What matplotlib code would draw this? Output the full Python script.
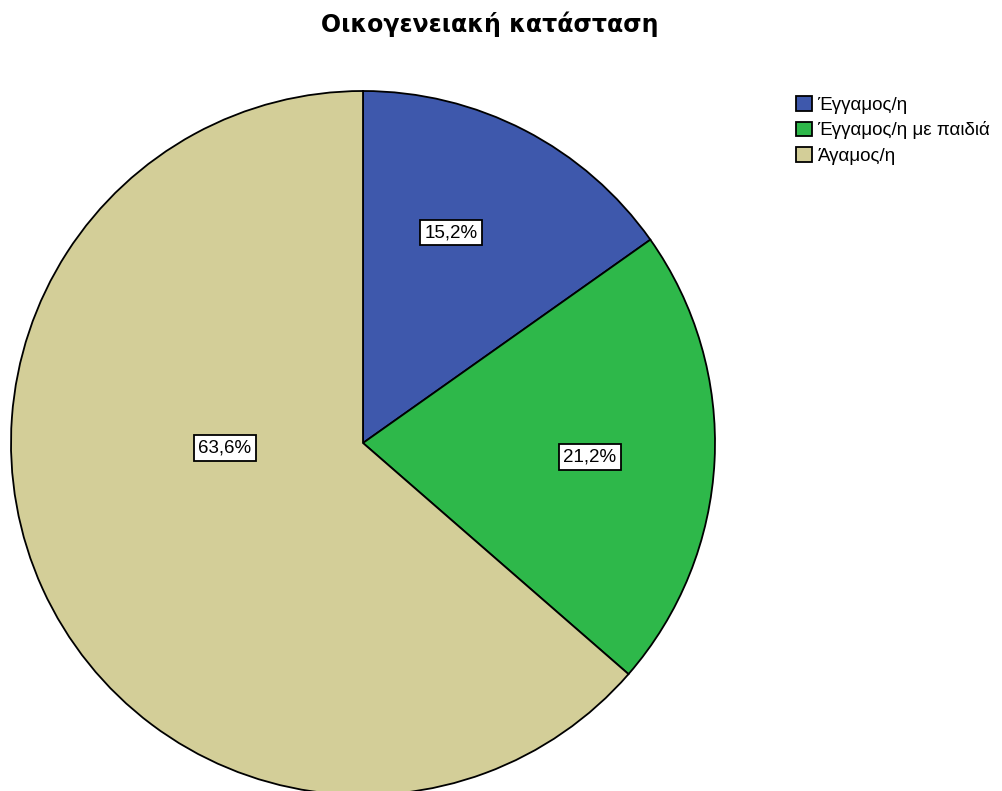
import matplotlib.pyplot as plt
from matplotlib.patches import Patch

plt.rcParams['font.family'] = ['Liberation Sans', 'DejaVu Sans']

# data
categories = ['Έγγαμος/η', 'Έγγαμος/η με παιδιά', 'Άγαμος/η']
percentages = [15.2, 21.2, 63.6]
colors = ['#3e58ac', '#2eb84a', '#d3ce98']
# label anchor positions (in pie radius units)
label_pos = [(0.25, 0.597), (0.645, -0.04), (-0.392, -0.014)]

W, H = 1003, 791
fig = plt.figure(figsize=(W / 100, H / 100), dpi=100)

# pie axes: centre (363, 443) px, radius 352 px
cx, cy, r = 363, 443, 352
ax = fig.add_axes([(cx - r) / W, (H - cy - r) / H, 2 * r / W, 2 * r / H])
wedges, _ = ax.pie(percentages, colors=colors, startangle=90, counterclock=False,
                   radius=1, wedgeprops=dict(edgecolor='black', linewidth=1.3))
ax.set_xlim(-1, 1)
ax.set_ylim(-1, 1)
ax.set_aspect('equal')
ax.axis('off')
for w in wedges:
    w.set_clip_on(False)

for p, (x, y) in zip(percentages, label_pos):
    ax.text(x, y, f'{p:.1f}%'.replace('.', ','), ha='center', va='center', fontsize=13.5,
            bbox=dict(boxstyle='square,pad=0.22', facecolor='white', edgecolor='black', linewidth=1.3))

fig.text(490 / W, 1 - 24 / H, 'Οικογενειακή κατάσταση', ha='center', va='center',
         fontsize=17, fontweight='bold', family=['DejaVu Sans'])

handles = [Patch(facecolor=c, edgecolor='black', linewidth=1.3) for c in colors]
fig.legend(handles, categories, loc='upper left', bbox_to_anchor=(796 / W, 1 - 96 / H),
           frameon=False, fontsize=13.5, handlelength=0.85, handleheight=0.85,
           handletextpad=0.3, labelspacing=0.4, borderpad=0, borderaxespad=0)

fig.savefig('out.png', dpi=100)
